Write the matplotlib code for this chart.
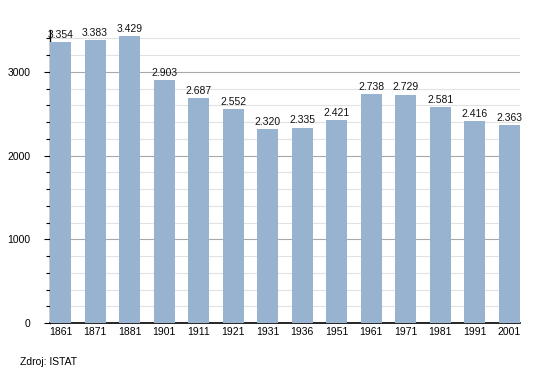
import matplotlib
matplotlib.use("Agg")
import matplotlib.pyplot as plt
from matplotlib.ticker import MultipleLocator

years = ["1861", "1871", "1881", "1901", "1911", "1921", "1931",
         "1936", "1951", "1961", "1971", "1981", "1991", "2001"]
population = [3354, 3383, 3429, 2903, 2687, 2552, 2320,
              2335, 2421, 2738, 2729, 2581, 2416, 2363]

BAR = "#98b3cf"

plt.rcParams["font.family"] = ["Liberation Sans", "DejaVu Sans"]

fig = plt.figure(figsize=(5.5, 3.73), dpi=100)
ax = fig.add_axes([50 / 550, 50 / 373, 470 / 550, 293 / 373])

xs = range(len(years))
ax.bar(xs, population, width=0.61, color=BAR, zorder=3)

for x, v in zip(xs, population):
    ax.text(x, v + 25, f"{v:,}".replace(",", "."), ha="center", va="bottom",
            fontsize=7.5, color="#111111", zorder=4)

ax.set_xlim(-0.305, 13.305)
ax.set_ylim(0, 3500)
ax.set_xticks(list(xs))
ax.set_xticklabels(years, fontsize=7.5)
ax.yaxis.set_major_locator(MultipleLocator(1000))
ax.yaxis.set_minor_locator(MultipleLocator(200))
ax.tick_params(axis="y", which="major", labelsize=7.5, length=4, width=0.8, pad=10)
ax.tick_params(axis="y", which="minor", length=3, width=0.8)
ax.tick_params(axis="x", length=0, pad=3)

ax.grid(axis="y", which="major", color="#a8a8a8", lw=0.8, zorder=1)
ax.grid(axis="y", which="minor", color="#e2e2e2", lw=0.8, zorder=1)

for s in ("top", "right"):
    ax.spines[s].set_visible(False)
ax.spines["left"].set_linewidth(1.0)
ax.spines["bottom"].set_linewidth(1.2)

fig.text(20 / 550, 1 - 362 / 373, "Zdroj: ISTAT", fontsize=7.5, va="center")

fig.savefig("out.png", dpi=100, facecolor="white")
